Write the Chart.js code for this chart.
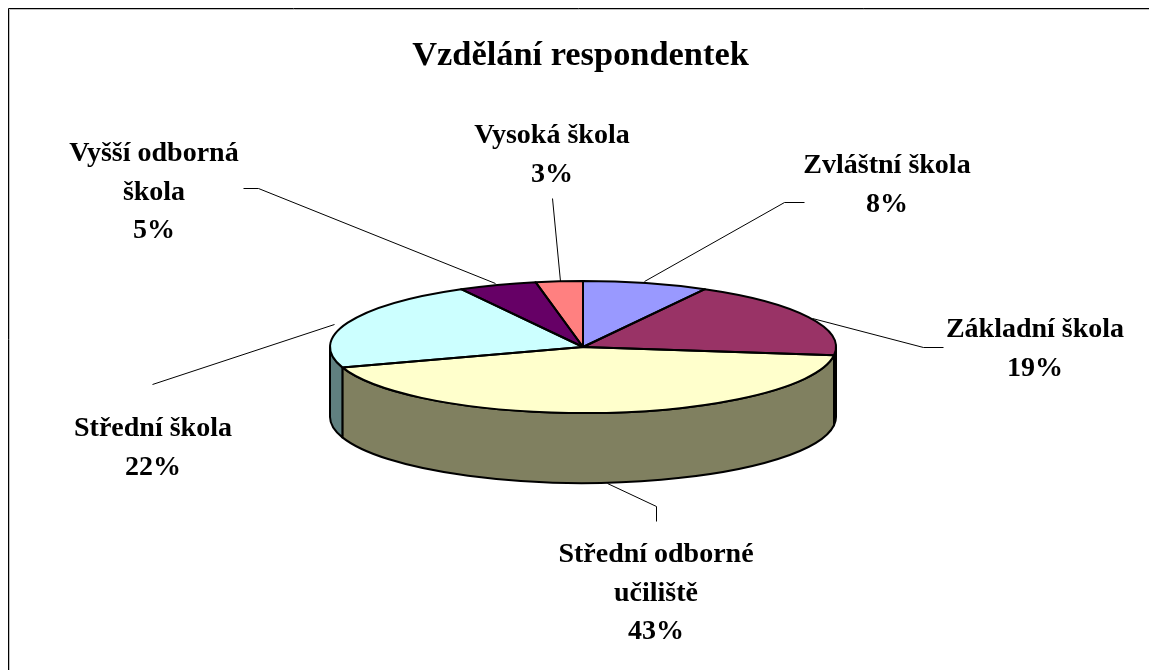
<!DOCTYPE html>
<html lang="cs">
<head>
<meta charset="utf-8">
<style>
html,body{margin:0;padding:0;background:#fff;overflow:hidden}
#w{position:absolute;left:0;top:0;width:1149px;height:670px}
</style>
<script src="https://cdn.jsdelivr.net/npm/chart.js@4"></script>
</head>
<body>
<div id="w"><canvas id="c" width="1149" height="670"></canvas></div>
<script>
const chartTitle = 'Vzdělání respondentek';
const categories = ['Zvláštní škola','Základní škola','Střední odborné učiliště','Střední škola','Vyšší odborná škola','Vysoká škola'];
const shares = [8,19,43,22,5,3];
const topColors = ['#9999FF','#993366','#FFFFCC','#CCFFFF','#660066','#FF8080'];
const sideColors = ['#4D4D80','#000000','#808060','#608080','#330033','#804040'];
const labelLines = [['Zvláštní škola','8%'],['Základní škola','19%'],['Střední odborné','učiliště','43%'],['Střední škola','22%'],['Vyšší odborná','škola','5%'],['Vysoká škola','3%']];
const labelPos = [[887,173],[1035,337],[656,562],[153,436],[154,161],[552,143]];
const leaders = [
 [[804,202],[784,202],[644,281]],
 [[943,347],[923,347],[812,318]],
 [[656,521],[656,506],[607,483]],
 [[152,384],[152,384],[334,324]],
 [[243,188],[258,188],[495,283]],
 [[552,198],[552,198],[560,281]]
];
const CX=583, CY=347, RX=253, RY=66, DEPTH=70;

const pie3d = {
  id:'pie3d',
  beforeDatasetsDraw(chart){
    const ctx=chart.ctx, arcs=chart.getDatasetMeta(0).data;
    ctx.save();
    ctx.strokeStyle='#c0c0c0';ctx.lineWidth=1;
    ctx.beginPath();ctx.moveTo(9.5,670);ctx.lineTo(9.5,9.5);ctx.lineTo(1149,9.5);ctx.stroke();
    ctx.strokeStyle='#000';
    ctx.beginPath();ctx.moveTo(8.5,670);ctx.lineTo(8.5,8.5);ctx.lineTo(1149,8.5);ctx.stroke();
    ctx.lineWidth=1;ctx.strokeStyle='#000';
    leaders.forEach(l=>{ctx.beginPath();l.forEach((p,i)=>i?ctx.lineTo(p[0]+.5,p[1]+.5):ctx.moveTo(p[0]+.5,p[1]+.5));ctx.stroke();});
    ctx.lineWidth=2;ctx.lineJoin='round';
    arcs.forEach((a,i)=>{
      const s=Math.max(a.startAngle,0), e=Math.min(a.endAngle,Math.PI);
      if(e<=s) return;
      ctx.beginPath();
      ctx.ellipse(CX,CY,RX,RY,0,s,e,false);
      ctx.ellipse(CX,CY+DEPTH,RX,RY,0,e,s,true);
      ctx.closePath();
      ctx.fillStyle=sideColors[i];ctx.fill();
      ctx.strokeStyle='#000';ctx.stroke();
    });
    ctx.restore();
    ctx.save();
    const a0=arcs[0];
    ctx.translate(CX,CY);ctx.scale(RX/a0.outerRadius,RY/a0.outerRadius);ctx.translate(-a0.x,-a0.y);
  },
  afterDatasetsDraw(chart){
    const ctx=chart.ctx, arcs=chart.getDatasetMeta(0).data;
    ctx.restore();
    ctx.save();
    ctx.strokeStyle='#000';ctx.lineWidth=2;ctx.lineJoin='round';
    arcs.forEach(a=>{
      ctx.beginPath();ctx.moveTo(CX,CY);
      ctx.ellipse(CX,CY,RX,RY,0,a.startAngle,a.endAngle,false);
      ctx.closePath();ctx.stroke();
    });
    ctx.fillStyle='#000';ctx.textAlign='center';ctx.textBaseline='alphabetic';
    ctx.font='bold 28px "Liberation Serif"';
    labelLines.forEach((ls,i)=>{
      ls.forEach((t,j)=>ctx.fillText(t,labelPos[i][0],labelPos[i][1]+j*38.5));
    });
    ctx.restore();
  }
};

new Chart(document.getElementById('c'),{
  type:'pie',
  data:{labels:categories,datasets:[{data:shares,backgroundColor:topColors,borderWidth:0}]},
  options:{
    responsive:false,animation:false,radius:253,
    layout:{padding:{left:12}},
    plugins:{
      legend:{display:false},tooltip:{enabled:false},
      title:{display:true,text:chartTitle,color:'#000',font:{family:'"Liberation Serif"',size:34.4,weight:'bold'},padding:{top:35,bottom:10}}
    }
  },
  plugins:[pie3d]
});
</script>
</body>
</html>
